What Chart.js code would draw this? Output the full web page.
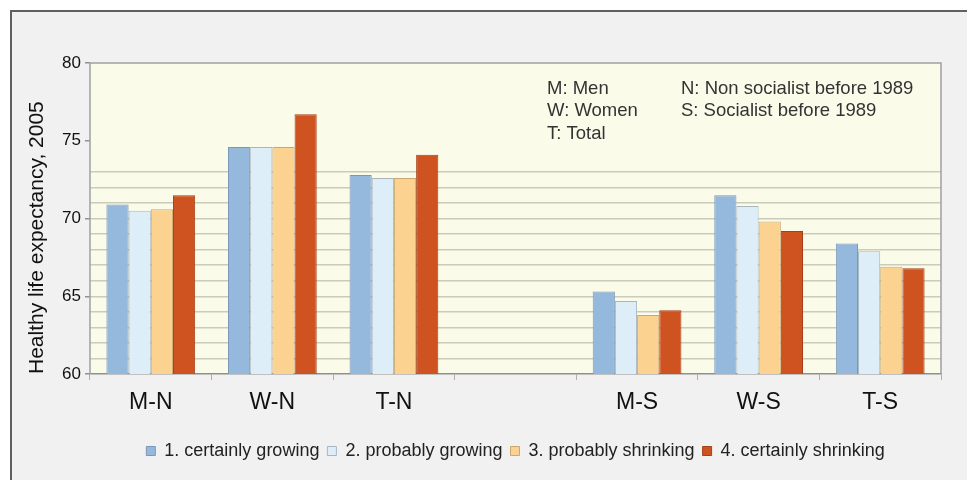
<!DOCTYPE html>
<html>
<head>
<meta charset="utf-8">
<script src="https://cdn.jsdelivr.net/npm/chart.js@4"></script>
<style>
    body { margin: 0; background: #ffffff; }
    #wrap { position: relative; width: 967px; height: 480px; overflow: hidden; }
    #frame {
        position: absolute; left: 10px; top: 10px; width: 970px; height: 480px;
        background: #f1f1f1; border-left: 2px solid #606060; border-top: 2px solid #606060;
    }
    #chart { position: absolute; left: 0; top: 0; }
</style>
</head>
<body>
<div id="wrap">
    <div id="frame"></div>
    <canvas id="chart" width="967" height="480"></canvas>
</div>
<script>
const categories = ["M-N", "W-N", "T-N", "", "M-S", "W-S", "T-S"];

const certainlyGrowing   = [70.9, 74.6, 72.8, null, 65.3, 71.5, 68.4];
const probablyGrowing    = [70.5, 74.6, 72.6, null, 64.7, 70.8, 67.9];
const probablyShrinking  = [70.6, 74.6, 72.6, null, 63.8, 69.8, 66.9];
const certainlyShrinking = [71.5, 76.7, 74.1, null, 64.1, 69.2, 66.8];

const seriesNames = [
    "1. certainly growing",
    "2. probably growing",
    "3. probably shrinking",
    "4. certainly shrinking"
];

const yMin = 60;
const yMax = 80;
const gridTop = 73; // horizontal grid lines only up to here

const notesLeft = ["M: Men", "W: Women", "T: Total"];
const notesRight = ["N: Non socialist before 1989", "S: Socialist before 1989"];

const FONT = "'Liberation Sans', Arial, sans-serif";

// plot background, border and the small key in the corner
const plotDeco = {
    id: "plotDeco",
    afterLayout(chart) {
        // centre the legend under the plot, not the whole canvas
        const lg = chart.legend;
        if (lg) {
            lg.left = chart.chartArea.left;
            lg.right = chart.chartArea.right;
        }
    },
    beforeDraw(chart) {
        const a = chart.chartArea;
        const ctx = chart.ctx;
        ctx.save();
        ctx.fillStyle = "#fbfbea";
        ctx.fillRect(a.left, a.top, a.right - a.left, a.bottom - a.top);
        ctx.restore();
    },
    afterDraw(chart) {
        const a = chart.chartArea;
        const ctx = chart.ctx;
        ctx.save();
        ctx.strokeStyle = "#a0a0a0";
        ctx.lineWidth = 1.5;
        ctx.beginPath();
        ctx.moveTo(a.left, a.bottom);
        ctx.lineTo(a.left, a.top);
        ctx.lineTo(a.right, a.top);
        ctx.lineTo(a.right, a.bottom);
        ctx.stroke();

        ctx.fillStyle = "#333333";
        ctx.font = "18.5px " + FONT;
        ctx.textBaseline = "middle";
        notesLeft.forEach((t, i) => ctx.fillText(t, a.left + 457, a.top + 26 + i * 22.3));
        notesRight.forEach((t, i) => ctx.fillText(t, a.left + 591, a.top + 26 + i * 22.3));
        ctx.restore();
    }
};

const chart = new Chart(document.getElementById("chart"), {
    type: "bar",
    data: {
        labels: categories,
        datasets: [
            { label: seriesNames[0], data: certainlyGrowing,   backgroundColor: "#95b8dd", borderColor: "#7c98b8" },
            { label: seriesNames[1], data: probablyGrowing,    backgroundColor: "#ddeef9", borderColor: "#a9b6c0" },
            { label: seriesNames[2], data: probablyShrinking,  backgroundColor: "#fbd28f", borderColor: "#c9a870" },
            { label: seriesNames[3], data: certainlyShrinking, backgroundColor: "#cf5221", borderColor: "#a4401a" }
        ]
    },
    options: {
        responsive: false,
        animation: false,
        layout: { padding: { left: 10, right: 26, top: 63, bottom: 10 } },
        datasets: {
            bar: { borderWidth: 1, categoryPercentage: 0.73, barPercentage: 1.0 }
        },
        scales: {
            x: {
                grid: {
                    offset: true,
                    drawOnChartArea: false,
                    drawTicks: true,
                    tickLength: 6,
                    color: "#b0b0b0"
                },
                border: { color: "#909090", width: 1.5 },
                ticks: { color: "#111111", font: { family: FONT, size: 23 }, padding: 9 },
                afterFit(s) { s.height = 60; }
            },
            y: {
                min: yMin,
                max: yMax,
                grid: {
                    drawTicks: true,
                    tickLength: 5,
                    color: c => (c.tick && c.tick.value <= gridTop && c.tick.value > yMin) ? "#cbcbbb" : "rgba(0,0,0,0)",
                    tickColor: c => (c.tick && c.tick.value % 5 === 0) ? "#909090" : "rgba(0,0,0,0)",
                    lineWidth: 1.5
                },
                border: { display: false },
                ticks: {
                    stepSize: 1,
                    autoSkip: false,
                    color: "#111111",
                    font: { family: FONT, size: 17 },
                    padding: 4,
                    callback: v => (v % 5 === 0 ? v : "")
                },
                title: {
                    display: true,
                    align: "start",
                    text: "Healthy life expectancy, 2005",
                    color: "#111111",
                    font: { family: FONT, size: 21 },
                    padding: { top: 15, bottom: 0 }
                },
                afterFit(s) { s.width = 80; }
            }
        },
        plugins: {
            legend: {
                position: "bottom",
                labels: {
                    boxWidth: 9,
                    boxHeight: 9,
                    padding: 8,
                    color: "#222222",
                    font: { family: FONT, size: 18 }
                }
            },
            tooltip: { enabled: false }
        }
    },
    plugins: [plotDeco]
});
</script>
</body>
</html>
